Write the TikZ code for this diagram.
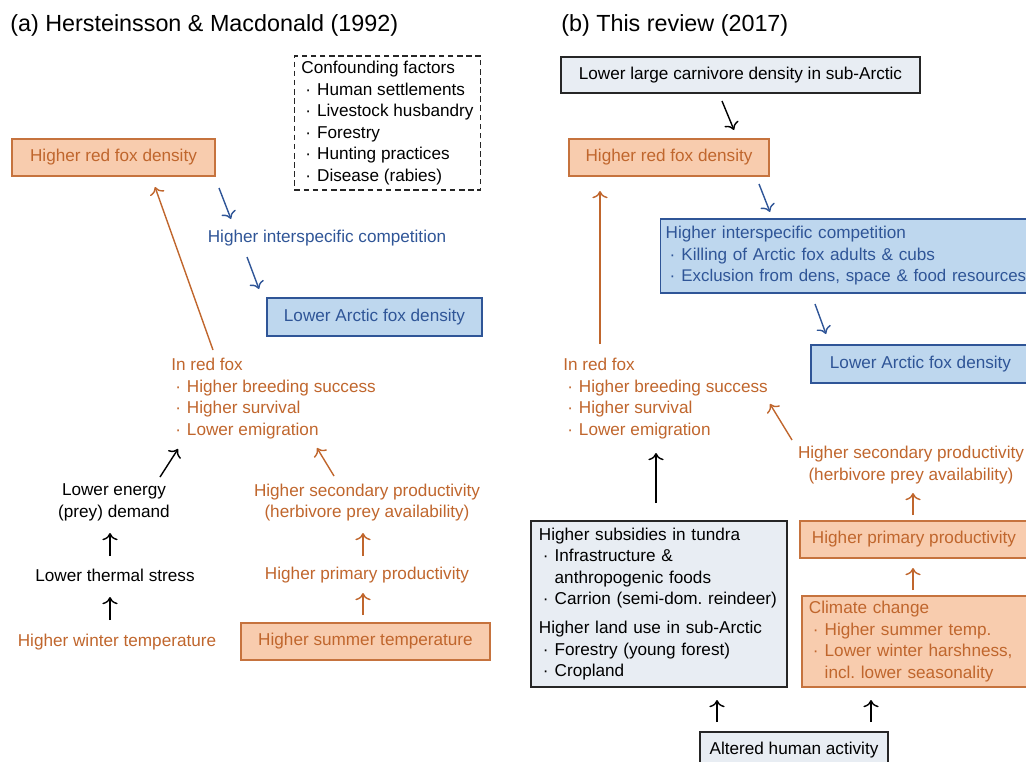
\documentclass[tikz,border=0pt]{standalone}
\usepackage{fontspec}
\setmainfont{Liberation Sans}
\usepackage{tikz}
\usetikzlibrary{arrows.meta}

\definecolor{foxorange}{RGB}{192,102,45}
\definecolor{foxorangefill}{RGB}{248,204,174}
\definecolor{foxorangeline}{RGB}{198,115,62}
\definecolor{arcblue}{RGB}{47,85,151}
\definecolor{arcbluefill}{RGB}{190,215,238}
\definecolor{humangray}{RGB}{232,237,243}

\newcommand{\bul}{\hspace*{0.1cm}\textperiodcentered\hspace{0.15cm}}
\newcommand{\bulgap}{\hspace*{0.1cm}\phantom{\textperiodcentered}\hspace{0.15cm}}

\begin{document}
\begin{tikzpicture}[x=0.025cm, y=-0.025cm, >={To[scale=1.35]},
    every node/.style={font=\fontsize{12.2}{15.3}\selectfont\frenchspacing},
    titletext/.style={anchor=west, inner sep=0pt, font=\fontsize{16.6}{20}\selectfont},
    orangebox/.style={draw=foxorangeline, fill=foxorangefill, text=foxorange, line width=1pt},
    bluebox/.style={draw=arcblue, fill=arcbluefill, text=arcblue, line width=1pt},
    graybox/.style={draw=black!85, fill=humangray, text=black, line width=1pt},
    confbox/.style={draw=black!85, dash pattern=on 4pt off 2.5pt, line width=0.9pt, align=left, inner xsep=0.175cm, minimum height=3.35cm},
    orangetext/.style={text=foxorange, inner sep=0pt},
    bluetext/.style={text=arcblue, inner sep=0pt},
    blacktext/.style={text=black, inner sep=0pt},
    blackarr/.style={->, color=black, line width=1pt},
    bluearr/.style={->, color=arcblue, line width=1pt},
    orangearr/.style={->, color=foxorange, line width=1pt}]
    \useasboundingbox (0,0) rectangle (1026,762);
    \clip (0,0) rectangle (1026,762);

    % (a) Hersteinsson & Macdonald
    \node[titletext] at (10,25) (titleA) {(a) Hersteinsson \& Macdonald (1992)};
    \node[confbox] at (387.5,123) (conf) {Confounding factors\\ \bul Human settlements\\ \bul Livestock husbandry\\ \bul Forestry\\ \bul Hunting practices\\ \bul Disease (rabies)};
    \node[orangebox, minimum width=5.075cm, minimum height=0.925cm] at (113.5,157.5) (redA) {Higher red fox density};
    \node[bluetext] at (327,238) (compA) {Higher interspecific competition};
    \node[bluebox, minimum width=5.375cm, minimum height=0.95cm] at (374.5,317) (arcA) {Lower Arctic fox density};
    \node[orangetext, anchor=west, align=left] at (171,398.5) (inA) {In red fox\\ \bul Higher breeding success\\ \bul Higher survival\\ \bul Lower emigration};
    \node[blacktext, align=center] at (114,502.5) (energy) {Lower energy\\(prey) demand};
    \node[blacktext] at (115,575) (thermal) {Lower thermal stress};
    \node[orangetext] at (117,642) (winter) {Higher winter temperature};
    \node[orangetext, align=center] at (367,502.5) (secA) {Higher secondary productivity\\(herbivore prey availability)};
    \node[orangetext] at (367,575) (primA) {Higher primary productivity};
    \node[orangebox, minimum width=6.225cm, minimum height=0.925cm] at (365.5,641.5) (summer) {Higher summer temperature};

    \coordinate (redA1) at (219,188);
    \coordinate (compA0) at (231,219);
    \coordinate (compA1) at (247,257);
    \coordinate (arcA0) at (259,289);
    \coordinate (inA1) at (213,350);
    \coordinate (redA0) at (155,187);
    \coordinate (energy1) at (160,477);
    \coordinate (inA0) at (178,449);
    \coordinate (secA1) at (334,476);
    \coordinate (inA2) at (317,448);
    \coordinate (thermal1) at (110,556);
    \coordinate (energy0) at (110,533);
    \coordinate (winter1) at (110,620);
    \coordinate (thermal0) at (110,597);
    \coordinate (primA1) at (363,556);
    \coordinate (secA0) at (363,533);
    \coordinate (summer1) at (363,615);
    \coordinate (primA0) at (363,593);

    \path [bluearr] (redA1) edge (compA0);
    \path [bluearr] (compA1) edge (arcA0);
    \path [orangearr] (inA1) edge (redA0);
    \path [blackarr] (energy1) edge (inA0);
    \path [orangearr] (secA1) edge (inA2);
    \path [blackarr] (thermal1) edge (energy0);
    \path [blackarr] (winter1) edge (thermal0);
    \path [orangearr] (primA1) edge (secA0);
    \path [orangearr] (summer1) edge (primA0);

    % (b) This review
    \node[titletext] at (561,25) (titleB) {(b) This review (2017)};
    \node[graybox, minimum width=8.975cm, minimum height=0.9cm] at (740.5,75) (carn) {Lower large carnivore density in sub-Arctic};
    \node[orangebox, minimum width=5cm, minimum height=0.925cm] at (669,157.5) (redB) {Higher red fox density};
    \node[bluebox, anchor=west, text width=9.2cm, inner xsep=0.125cm, minimum height=1.85cm, align=left] at (660,256) (compB) {Higher interspecific competition\\ \bul Killing of Arctic fox adults \& cubs\\ \bul {\fontsize{12}{15.3}\selectfont Exclusion from dens, space \& food resources}};
    \node[bluebox, minimum width=5.475cm, minimum height=0.95cm] at (920.5,364) (arcB) {Lower Arctic fox density};
    \node[orangetext, anchor=west, align=left] at (563,398.5) (inB) {In red fox\\ \bul Higher breeding success\\ \bul Higher survival\\ \bul Lower emigration};
    \node[orangetext, align=center] at (911,465) (secB) {Higher secondary productivity\\(herbivore prey availability)};
    \node[orangebox, minimum width=5.7cm, minimum height=0.925cm] at (914,539.5) (primB) {Higher primary productivity};
    \node[orangebox, text width=5.35cm, inner xsep=0.175cm, minimum height=2.275cm, align=left] at (916,641.5) (clim) {Climate change\\ \bul Higher summer temp.\\ \bul Lower winter harshness,\\ \bulgap incl. lower seasonality};
    \node[graybox, text width=6cm, inner xsep=0.2cm, minimum height=4.15cm, align=left] at (659,604) (subs) {Higher subsidies in tundra\\ \bul Infrastructure \&\\ \bulgap anthropogenic foods\\ \bul Carrion (semi-dom. reindeer)\\[0.19cm] Higher land use in sub-Arctic\\ \bul Forestry (young forest)\\ \bul Cropland};
    \node[graybox, minimum width=4.7cm, minimum height=0.9cm] at (794,750) (human) {Altered human activity};

    \coordinate (carn1) at (722,101);
    \coordinate (redB0) at (734,130);
    \coordinate (redB1) at (759,184);
    \coordinate (compB0) at (770,212);
    \coordinate (compB1) at (815,304);
    \coordinate (arcB0) at (826,334);
    \coordinate (inB1) at (600,344);
    \coordinate (redB2) at (600,191);
    \coordinate (secB1) at (792,440);
    \coordinate (inB2) at (770,404);
    \coordinate (primB1) at (913,515);
    \coordinate (secB0) at (913,493);
    \coordinate (clim1) at (913,590);
    \coordinate (primB0) at (913,568);
    \coordinate (subs1) at (656,503);
    \coordinate (inB0) at (656,453);
    \coordinate (human1) at (717,722);
    \coordinate (subs0) at (717,700);
    \coordinate (human2) at (871,722);
    \coordinate (clim0) at (871,700);

    \path [blackarr] (carn1) edge (redB0);
    \path [bluearr] (redB1) edge (compB0);
    \path [bluearr] (compB1) edge (arcB0);
    \path [orangearr] (inB1) edge (redB2);
    \path [orangearr] (secB1) edge (inB2);
    \path [orangearr] (primB1) edge (secB0);
    \path [orangearr] (clim1) edge (primB0);
    \path [blackarr] (subs1) edge (inB0);
    \path [blackarr] (human1) edge (subs0);
    \path [blackarr] (human2) edge (clim0);
\end{tikzpicture}
\end{document}
